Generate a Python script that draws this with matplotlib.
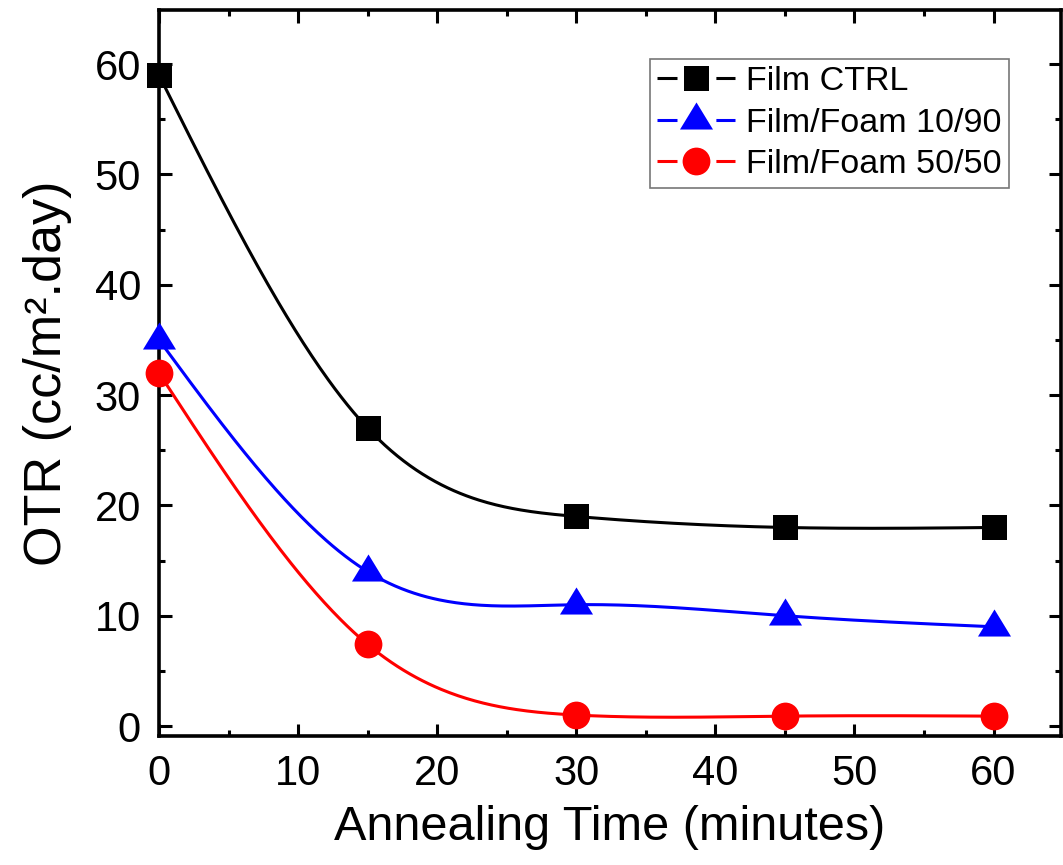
import numpy as np
import matplotlib
matplotlib.use("Agg")
import matplotlib.pyplot as plt
from matplotlib.lines import Line2D
from matplotlib.legend_handler import HandlerTuple
from matplotlib.ticker import MultipleLocator

plt.rcParams['font.family'] = ['Liberation Sans', 'DejaVu Sans']

# Annealing time (minutes) and oxygen transmission rate
time_min = [0, 15, 30, 45, 60]
otr_ctrl = [59, 27, 19, 18, 18]
otr_10_90 = [35, 14, 11, 10, 9]
otr_50_50 = [32, 7.4, 1.0, 0.9, 0.9]

labels = ['Film CTRL', 'Film/Foam 10/90', 'Film/Foam 50/50']
colors = ['black', 'blue', 'red']

# up-triangle whose centroid sits on the data point
tri = [(-1.0, -0.547), (1.0, -0.547), (0.0, 1.093), (-1.0, -0.547)]
markers = ['s', tri, 'o']
msizes = [18, 26, 20]


def natural_spline(x, y, n=400):
    """Natural cubic spline through (x, y), evaluated on a dense grid."""
    x = np.asarray(x, float)
    y = np.asarray(y, float)
    k = len(x)
    h = np.diff(x)
    A = np.zeros((k, k))
    b = np.zeros(k)
    A[0, 0] = A[-1, -1] = 1.0
    for i in range(1, k - 1):
        A[i, i - 1] = h[i - 1]
        A[i, i] = 2 * (h[i - 1] + h[i])
        A[i, i + 1] = h[i]
        b[i] = 6 * ((y[i + 1] - y[i]) / h[i] - (y[i] - y[i - 1]) / h[i - 1])
    M = np.linalg.solve(A, b)
    xs = np.linspace(x[0], x[-1], n)
    idx = np.clip(np.searchsorted(x, xs) - 1, 0, k - 2)
    x0, x1 = x[idx], x[idx + 1]
    hh = x1 - x0
    t0, t1 = x1 - xs, xs - x0
    ys = (M[idx] * t0 ** 3 / (6 * hh) + M[idx + 1] * t1 ** 3 / (6 * hh)
          + (y[idx] / hh - M[idx] * hh / 6) * t0
          + (y[idx + 1] / hh - M[idx + 1] * hh / 6) * t1)
    return xs, ys


fig = plt.figure(figsize=(10.63, 8.65), dpi=100)
ax = fig.add_axes([159 / 1063, 1 - 736 / 865, (1061 - 159) / 1063, (736 - 10) / 865])

LW = 2.2
handles = []
for yv, c, m, ms in zip([otr_ctrl, otr_10_90, otr_50_50], colors, markers, msizes):
    xs, ys = natural_spline(time_min, yv)
    ax.plot(xs, ys, color=c, lw=LW, zorder=2)
    ax.plot(time_min, yv, linestyle='none', marker=m, ms=ms, color=c,
            markeredgewidth=0, zorder=3, clip_on=False)
    # legend sample: short line pieces either side of the symbol
    seg = Line2D([], [], color=c, lw=LW, dashes=(14.4 / LW, 28.0 / LW))
    sym = Line2D([], [], linestyle='none', marker=m, ms=ms, color=c,
                 markeredgewidth=0)
    handles.append((seg, sym))

ax.set_xlim(0, 64.85)
ax.set_ylim(-0.9, 64.9)
ax.xaxis.set_major_locator(MultipleLocator(10))
ax.xaxis.set_minor_locator(MultipleLocator(5))
ax.yaxis.set_major_locator(MultipleLocator(10))
ax.yaxis.set_minor_locator(MultipleLocator(5))
ax.tick_params(which='both', direction='in', top=True, right=True,
               labelsize=30, pad=13)
ax.tick_params(which='major', length=9, width=2.2)
ax.tick_params(which='minor', length=4.5, width=2.2)
for s in ax.spines.values():
    s.set_linewidth(2.6)

ax.set_xlabel('Annealing Time (minutes)', fontsize=35, labelpad=8)
ax.set_ylabel('OTR (cc/m\u00b2.day)', fontsize=37.5, labelpad=16)

leg = ax.legend(handles, labels, loc='upper right', bbox_to_anchor=(0.942, 0.933),
                handler_map={tuple: HandlerTuple(ndivide=1, pad=0)},
                fontsize=24.5, frameon=True, fancybox=False, handlelength=2.3,
                handletextpad=0.3, labelspacing=0.31, borderpad=0.22,
                borderaxespad=0)
leg.get_frame().set_edgecolor('#555555')
leg.get_frame().set_linewidth(1.2)

fig.savefig('out.png', dpi=100)
